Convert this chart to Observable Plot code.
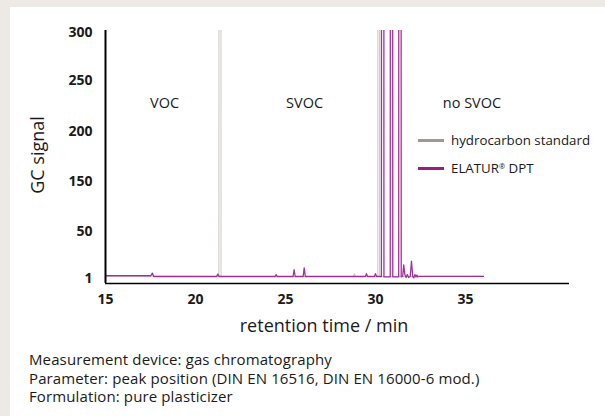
<!DOCTYPE html>
<html>
<head>
<meta charset="utf-8">
<script src="https://cdn.jsdelivr.net/npm/d3@7"></script>
<script src="https://cdn.jsdelivr.net/npm/@observablehq/plot@0.6"></script>
<style>
  html, body { margin: 0; padding: 0; }
  body { width: 605px; height: 416px; background: #ede9e4; position: relative; overflow: hidden; font-family: "Open Sans", sans-serif; color: #1a1a1a; }
  #panel { position: absolute; left: 10px; top: 7px; right: 0; bottom: 0; background: #fff; }
  #chart { position: absolute; left: 0; top: 0; }
  .abs { position: absolute; white-space: nowrap; }
  #ytitle { left: 37px; top: 155px; transform: translate(-50%, -50%) rotate(-90deg); font-size: 18px; }
  #xtitle { left: 324px; top: 325px; transform: translate(-50%, -50%); font-size: 18px; }
  #legend { left: 418px; top: 130px; font-size: 13.3px; }
  .li { display: flex; align-items: center; height: 20px; margin-bottom: 8px; }
  .sw { width: 26px; height: 3px; margin-right: 7px; }
  sup { font-size: 0.55em; vertical-align: 0.6em; line-height: 0; }
  #caption { left: 29px; top: 350px; font-size: 15px; line-height: 18.5px; letter-spacing: 0.12px; }
</style>
</head>
<body>
<div id="panel"></div>
<div id="chart"></div>
<div id="ytitle" class="abs">GC signal</div>
<div id="xtitle" class="abs">retention time / min</div>
<div id="legend" class="abs"></div>
<div id="caption" class="abs"></div>
<script>
// ---- data ----
const xTicks = [15, 20, 25, 30, 35];
const yTicks = [1, 50, 150, 200, 250, 300];
const yTickLabels = ["1", "50", "150", "200", "250", "300"];

const seriesNames = ["hydrocarbon standard", "ELATUR® DPT"];
const seriesColors = ["#9e9891", "#9a1c8b"];

const regionNames = ["VOC", "SVOC", "no SVOC"];
const regionCenters = [18.28, 26.06, 35.36];

// hydrocarbon standard trace (retention time, signal)
const hydroT = [15.0, 21.3, 21.36, 21.42, 28.77, 28.83, 28.89, 30.13, 30.18, 30.23, 36.0];
const hydroV = [1.5, 1, 5000, 1, 1, 4, 1, 1, 5000, 1, 1.2];

// ELATUR DPT trace (retention time, signal)
const elaturT = [15.0, 17.52, 17.6, 17.68, 21.17, 21.24, 21.31, 24.42, 24.48, 24.54,
  25.42, 25.48, 25.54, 25.98, 26.04, 26.1, 29.44, 29.5, 29.56, 29.94, 30.0, 30.06,
  30.33, 30.4, 30.47, 30.82, 30.89, 30.96, 31.29, 31.36, 31.43, 31.51, 31.57, 31.63,
  31.7, 31.77, 31.84, 31.93, 32.0, 32.07, 32.13, 32.19, 32.25, 32.3, 32.35, 32.41, 36.0];
const elaturV = [1.8, 1.8, 4.5, 1, 1, 3.5, 1, 1, 3, 1,
  1, 8, 1, 1, 10, 1, 1, 4, 1, 1, 4, 1,
  1, 5000, 0.5, 0.5, 5000, 0.5, 0.5, 5000, 0.5, 1, 13, 3,
  0, 3, 0, 1, 17, 1, -0.5, 3, 0.5, 2.5, 0.5, 1.2, 1.2];

// ---- build tables ----
const hydro = hydroT.map((t, i) => ({t, v: hydroV[i]}));
const elatur = elaturT.map((t, i) => ({t, v: elaturV[i]}));
const regions = regionNames.map((name, i) => ({name, t: regionCenters[i]}));

const chart = Plot.plot({
  width: 605,
  height: 320,
  marginLeft: 105,
  marginRight: 36,
  marginTop: 30,
  marginBottom: 37,
  style: {fontFamily: "Open Sans, sans-serif", fontSize: "14px", background: "transparent", overflow: "visible", color: "#1a1a1a"},
  x: {domain: [15, 40.78], range: [105, 569]},
  y: {type: "linear", domain: [-6.5, 1, 50, 150, 200, 250, 300], range: [283, 276, 228.7, 179, 128.7, 78, 30]},
  marks: [
    Plot.line(hydro, {x: "t", y: "v", stroke: "#d3cbc2", strokeWidth: 1.1, clip: true}),
    Plot.line(elatur, {x: "t", y: "v", stroke: seriesColors[1], strokeWidth: 1.3, strokeOpacity: 0.9, clip: true}),
    Plot.ruleX([15], {stroke: "#000", strokeWidth: 2}),
    Plot.ruleY([-6.5], {stroke: "#000", strokeWidth: 1.6}),
    Plot.axisY({ticks: yTicks, tickFormat: (d) => yTickLabels[yTicks.indexOf(d)], tickSize: 0, tickPadding: 13, fontWeight: "bold", fontSize: 14, dy: 2, label: null}),
    Plot.axisX({ticks: xTicks, tickSize: 0, tickPadding: 11, fontWeight: "bold", fontSize: 14, label: null}),
    Plot.text(regions, {x: "t", text: "name", frameAnchor: "top", dy: 67, fontSize: 14.5, fill: "#1a1a1a"})
  ]
});
document.getElementById("chart").appendChild(chart);

// legend
const legend = document.getElementById("legend");
seriesNames.forEach((name, i) => {
  const row = document.createElement("div");
  row.className = "li";
  const sw = document.createElement("div");
  sw.className = "sw";
  sw.style.background = seriesColors[i];
  const label = document.createElement("span");
  const parts = name.split("®");
  label.appendChild(document.createTextNode(parts[0]));
  if (parts.length > 1) {
    const s = document.createElement("sup");
    s.textContent = "®";
    label.appendChild(s);
    label.appendChild(document.createTextNode(parts[1]));
  }
  row.appendChild(sw);
  row.appendChild(label);
  legend.appendChild(row);
});

// caption
const captionLines = [
  "Measurement device: gas chromatography",
  "Parameter: peak position (DIN EN 16516, DIN EN 16000-6 mod.)",
  "Formulation: pure plasticizer"
];
const cap = document.getElementById("caption");
captionLines.forEach(line => {
  const d = document.createElement("div");
  d.textContent = line;
  cap.appendChild(d);
});
</script>
</body>
</html>
